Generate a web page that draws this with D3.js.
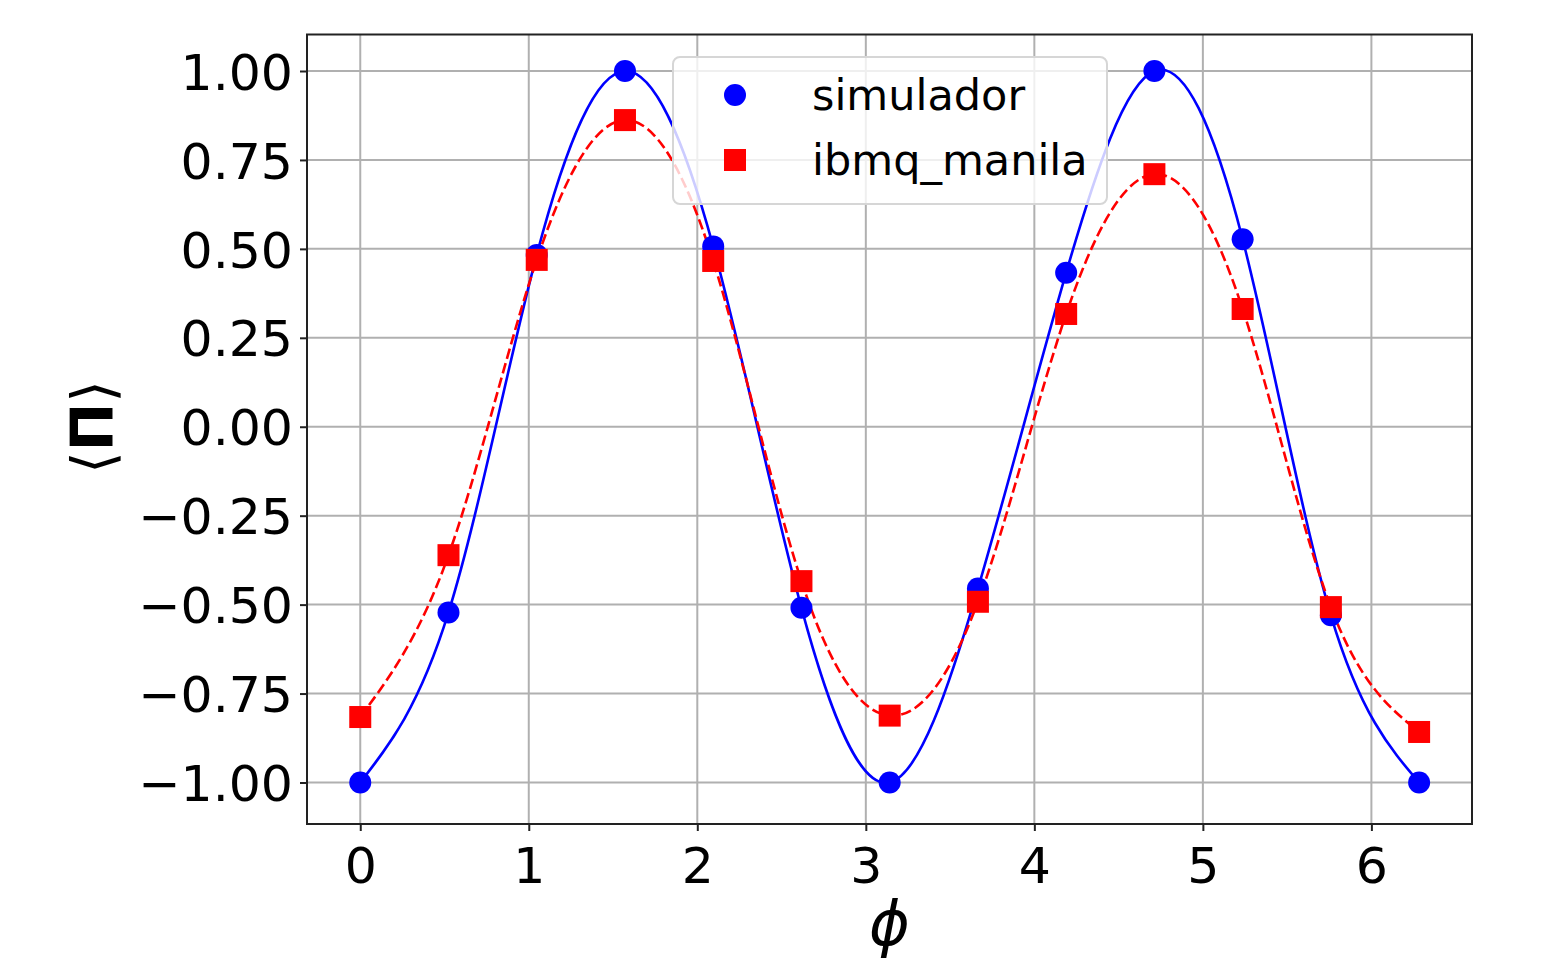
<!DOCTYPE html>
<html lang="en">
<head>
    <meta charset="utf-8"/>
    <title>simulador vs ibmq_manila</title>
    <script src="https://d3js.org/d3.v7.min.js"></script>
    <style>
        body {
            margin: 0;
            background: #fff;
        }

        svg {
            display: block;
            font-family: "DejaVu Sans", sans-serif;
        }

        .grid line {
            stroke: #b0b0b0;
            stroke-width: 2;
        }
    </style>
</head>
<body>
<svg></svg>
<script>
    // phi = k * pi / 6, k = 0..12
    const phi = [0, 0.5236, 1.0472, 1.5708, 2.0944, 2.6180, 3.1416,
        3.6652, 4.1888, 4.7124, 5.2360, 5.7596, 6.2832];
    const simulador = [-1.00, -0.522, 0.483, 1.00, 0.507, -0.509, -1.00,
        -0.455, 0.433, 1.00, 0.527, -0.530, -1.00];
    const ibmqManila = [-0.816, -0.361, 0.469, 0.862, 0.466, -0.434, -0.812,
        -0.492, 0.317, 0.710, 0.331, -0.507, -0.858];

    const xTicks = [0, 1, 2, 3, 4, 5, 6];
    const yTicks = [-1.00, -0.75, -0.50, -0.25, 0.00, 0.25, 0.50, 0.75, 1.00];
    const seriesNames = ["simulador", "ibmq_manila"];

    const width = 1546, height = 959;
    const plot = {left: 307, right: 1472, top: 34.5, bottom: 824};

    const svg = d3.select("svg").attr("width", width).attr("height", height);

    const x = d3.scaleLinear().domain([-0.316, 6.597]).range([plot.left, plot.right]);
    const y = d3.scaleLinear().domain([-1.1167, 1.1026]).range([plot.bottom, plot.top]);

    const fmtY = v => d3.format(".2f")(v).replace("-", "\u2212");

    // grid
    const grid = svg.append("g").attr("class", "grid");
    grid.selectAll(".gx").data(xTicks).enter().append("line")
        .attr("x1", d => x(d)).attr("x2", d => x(d))
        .attr("y1", plot.top).attr("y2", plot.bottom);
    grid.selectAll(".gy").data(yTicks).enter().append("line")
        .attr("y1", d => y(d)).attr("y2", d => y(d))
        .attr("x1", plot.left).attr("x2", plot.right);

    // axes
    const xAxis = svg.append("g")
        .attr("transform", `translate(0,${plot.bottom})`)
        .call(d3.axisBottom(x).tickValues(xTicks).tickFormat(d3.format("d"))
            .tickSize(7).tickPadding(10));
    const yAxis = svg.append("g")
        .attr("transform", `translate(${plot.left},0)`)
        .call(d3.axisLeft(y).tickValues(yTicks).tickFormat(fmtY)
            .tickSize(7).tickPadding(7));
    [xAxis, yAxis].forEach(a => {
        a.select(".domain").remove();
        a.selectAll(".tick line").attr("stroke", "#222").attr("stroke-width", 2);
        a.selectAll(".tick text").attr("fill", "#000")
            .style("font-size", "50.5px").style("font-family", "DejaVu Sans");
    });
    xAxis.selectAll(".tick text").attr("dy", "0.83em");
    yAxis.selectAll(".tick text").attr("dy", "0.36em");

    // curves
    const line = vals => d3.line()
        .x((d, i) => x(phi[i]))
        .y(d => y(d))
        .curve(d3.curveNatural)(vals);

    svg.append("path")
        .attr("d", line(simulador))
        .attr("fill", "none")
        .attr("stroke", "#0000ff")
        .attr("stroke-width", 2.6);

    svg.append("path")
        .attr("d", line(ibmqManila))
        .attr("fill", "none")
        .attr("stroke", "#ff0000")
        .attr("stroke-width", 2.6)
        .attr("stroke-dasharray", "10.5,4.5");

    // markers
    svg.append("g").selectAll("circle")
        .data(simulador).enter().append("circle")
        .attr("cx", (d, i) => x(phi[i]))
        .attr("cy", d => y(d))
        .attr("r", 11)
        .attr("fill", "#0000ff");

    const sq = 22;
    svg.append("g").selectAll("rect")
        .data(ibmqManila).enter().append("rect")
        .attr("x", (d, i) => x(phi[i]) - sq / 2)
        .attr("y", d => y(d) - sq / 2)
        .attr("width", sq)
        .attr("height", sq)
        .attr("fill", "#ff0000");

    // frame
    svg.append("rect")
        .attr("x", plot.left).attr("y", plot.top)
        .attr("width", plot.right - plot.left)
        .attr("height", plot.bottom - plot.top)
        .attr("fill", "none")
        .attr("stroke", "#222")
        .attr("stroke-width", 2);

    // legend
    const legend = svg.append("g").attr("transform", "translate(673,57)");
    legend.append("rect")
        .attr("width", 434).attr("height", 147).attr("rx", 7)
        .attr("fill", "#fff").attr("fill-opacity", 0.8)
        .attr("stroke", "#d6d6d6").attr("stroke-width", 2);
    legend.append("circle").attr("cx", 62).attr("cy", 38).attr("r", 11).attr("fill", "#0000ff");
    legend.append("rect").attr("x", 51).attr("y", 92).attr("width", sq).attr("height", sq).attr("fill", "#ff0000");
    legend.selectAll("text").data(seriesNames).enter().append("text")
        .attr("x", 139)
        .attr("y", (d, i) => 53 + i * 65)
        .style("font-size", "43px")
        .attr("fill", "#000")
        .text(d => d);

    // axis labels
    svg.append("text")
        .attr("x", (plot.left + plot.right) / 2)
        .attr("y", 945)
        .attr("text-anchor", "middle")
        .style("font-size", "62px")
        .style("font-style", "italic")
        .text("\u03D5");

    const yl = svg.append("text")
        .attr("transform", "translate(113,427) rotate(-90)")
        .attr("text-anchor", "middle")
        .style("font-size", "58px");
    yl.append("tspan").text("\u27E8");
    yl.append("tspan").style("font-weight", "bold").text("\u03A0");
    yl.append("tspan").text("\u27E9");
</script>
</body>
</html>
